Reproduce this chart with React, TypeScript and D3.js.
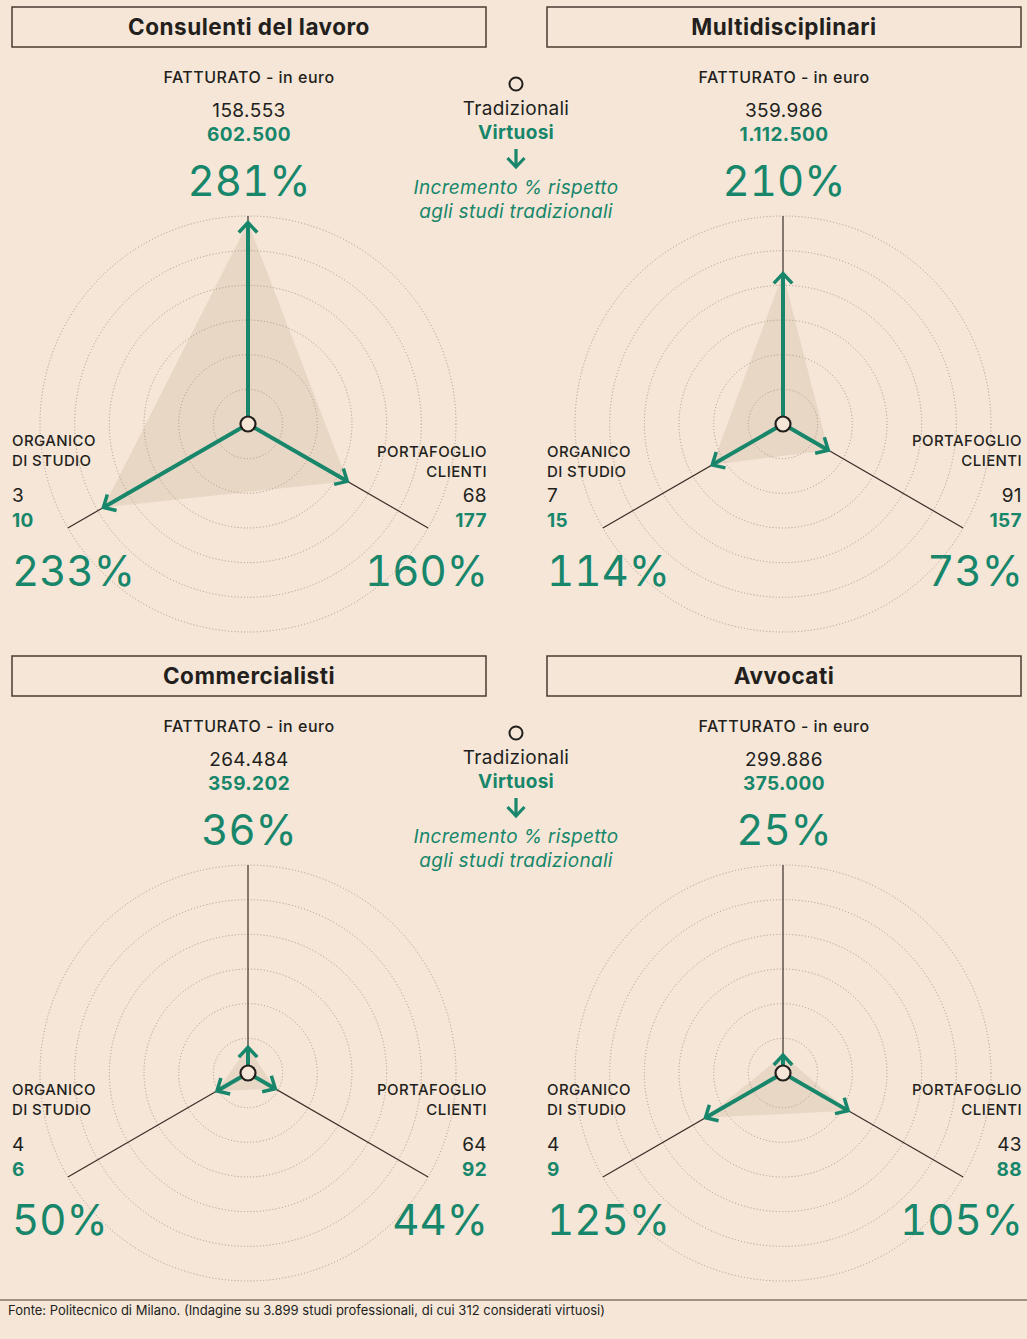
import React from "react";
import * as d3 from "d3";

const categories = ["Consulenti del lavoro", "Multidisciplinari", "Commercialisti", "Avvocati"];
const fatturatoTrad = [158553, 359986, 264484, 299886];
const fatturatoVirt = [602500, 1112500, 359202, 375000];
const fatturatoPct = [281, 210, 36, 25];
const portafoglioTrad = [68, 91, 64, 43];
const portafoglioVirt = [177, 157, 92, 88];
const portafoglioPct = [160, 73, 44, 105];
const organicoTrad = [3, 7, 4, 4];
const organicoVirt = [10, 15, 6, 9];
const organicoPct = [233, 114, 50, 125];
const ringTicks = [50, 100, 150, 200, 250, 300];
const axisNames = ["FATTURATO - in euro", "PORTAFOGLIO", "ORGANICO"];
const legendTexts = ["Tradizionali", "Virtuosi", "Incremento % rispetto", "agli studi tradizionali"];
const sourceText = "Fonte: Politecnico di Milano. (Indagine su 3.899 studi professionali, di cui 312 considerati virtuosi)";

const W = 1027;
const H = 1339;
const BG = "#f5e6d8";
const GREEN = "#17866a";
const DARK = "#231f1c";
const FONT = "Inter, 'Noto Sans', sans-serif";

const locale = d3.formatLocale({ decimal: ",", thousands: ".", grouping: [3], currency: ["", "€"] });
const fmt = locale.format(",d");

const rScale = d3.scaleLinear().domain([0, 300]).range([0, 208]);
const arrowScale = d3.scaleLinear().domain([0, 300]).range([0, 215]);
const angles = [-90, 30, 150].map((a) => (a * Math.PI) / 180);

function polar(r: number, a: number): [number, number] {
  return [r * Math.cos(a), r * Math.sin(a)];
}

function Arrow({ len, a, sw = 4 }: { len: number; a: number; sw?: number }) {
  const [x0, y0] = polar(7.5, a);
  const [x1, y1] = polar(len, a);
  const head = 13.5;
  const spread = (43 * Math.PI) / 180;
  const back = a + Math.PI;
  const [hx1, hy1] = polar(head, back - spread);
  const [hx2, hy2] = polar(head, back + spread);
  return (
    <g stroke={GREEN} fill="none" strokeLinecap="butt" strokeLinejoin="miter">
      <line x1={x0} y1={y0} x2={x1} y2={y1} strokeWidth={sw} />
      <path d={`M${x1 + hx1},${y1 + hy1}L${x1},${y1}L${x1 + hx2},${y1 + hy2}`} strokeWidth={3.5} />
    </g>
  );
}

const numStyle = { fontFeatureSettings: "'tnum'" } as React.CSSProperties;

function Panel({ i }: { i: number }) {
  const col = i % 2;
  const row = Math.floor(i / 2);
  const ox = col * 535;
  const oy = row * 649;
  const cx = 248;
  const cy = 424;
  const pcts = [fatturatoPct[i], portafoglioPct[i], organicoPct[i]];
  const tips = pcts.map((p, k) => polar(arrowScale(p), angles[k]));
  const poly = d3.line()(tips as [number, number][]) + "Z";
  const rightLabelY = row === 0 && col === 0 ? 452 : 441;
  const leftLabelY = row === 0 && col === 1 ? 452 : 441;
  const lab = { fontSize: 15, fontWeight: 500, fill: DARK, letterSpacing: 0.4 };
  const val = { fontSize: 19, letterSpacing: 0.4 };
  const big = { fontSize: 42, fill: GREEN, style: numStyle };
  return (
    <g transform={`translate(${ox},${oy})`} fontFamily={FONT}>
      <rect x={12} y={7} width={474} height={40} fill="none" stroke="#4a3b31" strokeWidth={1.5} />
      <text x={249} y={34.5} textAnchor="middle" fontSize={22.5} fontWeight={700} letterSpacing={0.5} fill={DARK}>
        {categories[i]}
      </text>
      <text x={249} y={82.5} textAnchor="middle" fontSize={16} fontWeight={500} letterSpacing={0.5} fill={DARK}>
        {axisNames[0]}
      </text>
      <text x={249} y={116.5} textAnchor="middle" {...val} fill={DARK}>
        {fmt(fatturatoTrad[i])}
      </text>
      <text x={249} y={140.5} textAnchor="middle" {...val} fontWeight={700} fill={GREEN}>
        {fmt(fatturatoVirt[i])}
      </text>
      <text x={249} y={196} textAnchor="middle" {...big}>
        {fatturatoPct[i]}%
      </text>

      {/* left: organico */}
      <text x={12} y={leftLabelY + 5} {...lab}>
        {axisNames[2]}
      </text>
      <text x={12} y={leftLabelY + 25} {...lab}>
        DI STUDIO
      </text>
      <text x={12} y={501.5} {...val} fill={DARK}>
        {fmt(organicoTrad[i])}
      </text>
      <text x={12} y={526.5} {...val} fontWeight={700} fill={GREEN}>
        {fmt(organicoVirt[i])}
      </text>
      <text x={12} y={586} {...big}>
        {organicoPct[i]}%
      </text>

      {/* right: portafoglio */}
      <text x={487} y={rightLabelY + 5} textAnchor="end" {...lab}>
        {axisNames[1]}
      </text>
      <text x={487} y={rightLabelY + 25} textAnchor="end" {...lab}>
        CLIENTI
      </text>
      <text x={487} y={501.5} textAnchor="end" {...val} fill={DARK}>
        {fmt(portafoglioTrad[i])}
      </text>
      <text x={487} y={526.5} textAnchor="end" {...val} fontWeight={700} fill={GREEN}>
        {fmt(portafoglioVirt[i])}
      </text>
      <text x={488} y={586} textAnchor="end" {...big}>
        {portafoglioPct[i]}%
      </text>

      <g transform={`translate(${cx},${cy})`}>
        {ringTicks.map((t) => (
          <circle
            key={t}
            r={rScale(t)}
            fill="none"
            stroke="#a8978a"
            strokeWidth={1}
            strokeDasharray="1 2.2"
          />
        ))}
        {angles.map((a, k) => {
          const [x, y] = polar(rScale(300), a);
          return <line key={k} x1={0} y1={0} x2={x} y2={y} stroke="#3a2e27" strokeWidth={1.2} />;
        })}
        <path d={poly} fill="#b79a7e" fillOpacity={0.2} stroke="none" />
        {pcts.map((p, k) => (
          <Arrow key={k} len={arrowScale(p)} a={angles[k]} />
        ))}
        <circle r={7.5} fill={BG} stroke={DARK} strokeWidth={2.2} />
      </g>
    </g>
  );
}

function Legend({ oy }: { oy: number }) {
  const x = 516;
  const t = { fontSize: 19, letterSpacing: 0.3 };
  return (
    <g transform={`translate(0,${oy})`} fontFamily={FONT} textAnchor="middle">
      <circle cx={x} cy={84} r={6.5} fill="none" stroke={DARK} strokeWidth={2} />
      <text x={x} y={114.5} {...t} fill={DARK}>
        {legendTexts[0]}
      </text>
      <text x={x} y={139} {...t} fontWeight={700} fill={GREEN}>
        {legendTexts[1]}
      </text>
      <g stroke={GREEN} fill="none" strokeWidth={3.2}>
        <line x1={x} y1={149} x2={x} y2={167} />
        <path d={`M${x - 8.5},${158}L${x},${167}L${x + 8.5},${158}`} />
      </g>
      <text x={x} y={194} {...t} fontStyle="italic" fill={GREEN}>
        {legendTexts[2]}
      </text>
      <text x={x} y={218} {...t} fontStyle="italic" fill={GREEN}>
        {legendTexts[3]}
      </text>
    </g>
  );
}

export default function App() {
  return (
    <svg
      width={W}
      height={H}
      viewBox={`0 0 ${W} ${H}`}
      style={{ position: "absolute", left: 0, top: 0, display: "block" }}
    >
      <rect x={0} y={0} width={W} height={H} fill={BG} />
      {categories.map((c, i) => (
        <Panel key={c} i={i} />
      ))}
      <Legend oy={0} />
      <Legend oy={649} />
      <line x1={0} y1={1300} x2={W} y2={1300} stroke="#4a3b31" strokeWidth={1} />
      <text x={8} y={1315} fontFamily={FONT} fontSize={13} fill={DARK}>
        {sourceText}
      </text>
    </svg>
  );
}
